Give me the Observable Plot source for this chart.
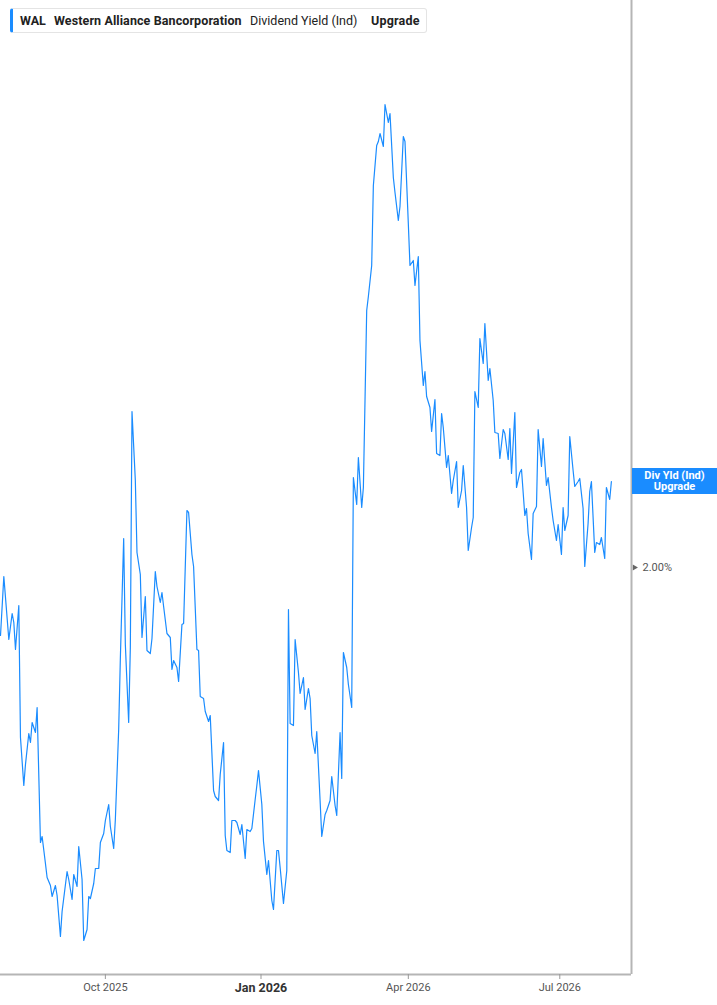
<!DOCTYPE html>
<html>
<head>
<meta charset="utf-8">
<script src="https://cdn.jsdelivr.net/npm/d3@7"></script>
<script src="https://cdn.jsdelivr.net/npm/@observablehq/plot@0.6"></script>
<style>
  html, body { margin: 0; padding: 0; background: #fff; }
  #wrap { position: relative; width: 717px; height: 1005px; overflow: hidden; }
  #legend {
    position: absolute; left: 10px; top: 8px; height: 25px; width: 417px;
    box-sizing: border-box; border: 1px solid #e4e4e4; border-left: 3px solid #1a8cff;
    border-radius: 3px; background: #fff;
    font-family: Roboto, "Noto Sans", sans-serif; font-size: 12.5px; color: #222;
    white-space: nowrap;
  }
  #legend span { position: absolute; top: 4px; }
</style>
</head>
<body>
<div id="wrap">
  <div id="chart"></div>
  <div id="legend">
    <span style="left:7px;font-weight:700">WAL</span>
    <span style="left:41px;font-weight:700;letter-spacing:0.1px">Western Alliance Bancorporation</span>
    <span style="left:237px;font-weight:400">Dividend Yield (Ind)</span>
    <span style="left:358px;font-weight:700;letter-spacing:0.2px">Upgrade</span>
  </div>
</div>
<script>
const dates = [
"2025-07-30","2025-08-01","2025-08-04","2025-08-06","2025-08-07","2025-08-08","2025-08-10","2025-08-11","2025-08-13","2025-08-14",
"2025-08-16","2025-08-17","2025-08-18","2025-08-20","2025-08-21","2025-08-23","2025-08-24","2025-08-26","2025-08-27","2025-08-29",
"2025-08-30","2025-09-01","2025-09-02","2025-09-04","2025-09-05","2025-09-08","2025-09-09","2025-09-11","2025-09-12","2025-09-14",
"2025-09-15","2025-09-17","2025-09-18","2025-09-20","2025-09-21","2025-09-22","2025-09-24","2025-09-25","2025-09-27","2025-09-28",
"2025-09-30","2025-10-01","2025-10-03","2025-10-04","2025-10-06","2025-10-07","2025-10-09","2025-10-10","2025-10-12","2025-10-13",
"2025-10-15","2025-10-16","2025-10-17","2025-10-19","2025-10-20","2025-10-22","2025-10-23","2025-10-25","2025-10-26","2025-10-28",
"2025-10-29","2025-10-31","2025-11-01","2025-11-03","2025-11-04","2025-11-05","2025-11-07","2025-11-09","2025-11-10","2025-11-11",
"2025-11-13","2025-11-14","2025-11-16","2025-11-17","2025-11-19","2025-11-20","2025-11-22","2025-11-23","2025-11-25","2025-11-26",
"2025-11-27","2025-11-29","2025-11-30","2025-12-02","2025-12-03","2025-12-05","2025-12-06","2025-12-08","2025-12-09","2025-12-11",
"2025-12-12","2025-12-13","2025-12-15","2025-12-16","2025-12-18","2025-12-19","2025-12-21","2025-12-22","2025-12-24","2025-12-25",
"2025-12-27","2025-12-28","2025-12-30","2025-12-31","2026-01-01","2026-01-03","2026-01-04","2026-01-06","2026-01-07","2026-01-09",
"2026-01-10","2026-01-12","2026-01-13","2026-01-14","2026-01-16","2026-01-18","2026-01-19","2026-01-20","2026-01-22","2026-01-23",
"2026-01-25","2026-01-26","2026-01-28","2026-01-29","2026-01-31","2026-02-01","2026-02-02","2026-02-04","2026-02-05","2026-02-07",
"2026-02-08","2026-02-10","2026-02-11","2026-02-13","2026-02-14","2026-02-16","2026-02-17","2026-02-19","2026-02-20","2026-02-21",
"2026-02-23","2026-02-24","2026-02-26","2026-02-27","2026-03-01","2026-03-02","2026-03-04","2026-03-05","2026-03-07","2026-03-08",
"2026-03-10","2026-03-11","2026-03-13","2026-03-14","2026-03-15","2026-03-17","2026-03-18","2026-03-20","2026-03-21","2026-03-23",
"2026-03-24","2026-03-26","2026-03-27","2026-03-29","2026-03-30","2026-04-01","2026-04-02","2026-04-04","2026-04-05","2026-04-07",
"2026-04-08","2026-04-10","2026-04-11","2026-04-12","2026-04-14","2026-04-15","2026-04-17","2026-04-18","2026-04-20","2026-04-21",
"2026-04-22","2026-04-24","2026-04-25","2026-04-27","2026-04-28","2026-04-30","2026-05-01","2026-05-03","2026-05-04","2026-05-06",
"2026-05-07","2026-05-09","2026-05-10","2026-05-11","2026-05-13","2026-05-14","2026-05-16","2026-05-17","2026-05-19","2026-05-20",
"2026-05-22","2026-05-23","2026-05-25","2026-05-26","2026-05-28","2026-05-29","2026-05-31","2026-06-01","2026-06-02","2026-06-04",
"2026-06-05","2026-06-07","2026-06-08","2026-06-10","2026-06-11","2026-06-12","2026-06-14","2026-06-15","2026-06-17","2026-06-18",
"2026-06-20","2026-06-21","2026-06-23","2026-06-24","2026-06-26","2026-06-27","2026-06-29","2026-06-30","2026-07-02","2026-07-03",
"2026-07-04","2026-07-06","2026-07-07","2026-07-09","2026-07-10","2026-07-12","2026-07-13","2026-07-15","2026-07-16","2026-07-18",
"2026-07-19","2026-07-20","2026-07-22","2026-07-23","2026-07-25","2026-07-26","2026-07-28","2026-07-29","2026-07-31","2026-08-01"
];
const yields = [
1.932,1.991,1.928,1.954,1.945,1.918,1.962,1.830,1.782,1.803,
1.834,1.825,1.845,1.835,1.860,1.725,1.731,1.704,1.690,1.682,
1.671,1.682,1.672,1.631,1.656,1.696,1.688,1.668,1.693,1.681,
1.721,1.688,1.627,1.638,1.671,1.669,1.684,1.699,1.699,1.725,
1.734,1.747,1.763,1.741,1.719,1.748,1.838,1.909,2.029,1.923,
1.845,1.920,2.156,2.087,2.015,1.993,1.930,1.971,1.917,1.914,
1.929,1.996,1.981,1.965,1.975,1.961,1.934,1.930,1.898,1.907,
1.900,1.886,1.943,1.944,2.057,2.055,2.013,2.001,1.918,1.917,
1.871,1.869,1.856,1.846,1.852,1.777,1.771,1.767,1.793,1.825,
1.732,1.717,1.715,1.747,1.747,1.745,1.733,1.743,1.709,1.738,
1.736,1.739,1.768,1.782,1.797,1.763,1.726,1.693,1.707,1.667,
1.658,1.717,1.717,1.700,1.664,1.697,1.958,1.844,1.842,1.928,
1.895,1.874,1.890,1.858,1.879,1.869,1.832,1.814,1.836,1.767,
1.731,1.753,1.757,1.767,1.791,1.762,1.752,1.835,1.789,1.915,
1.900,1.883,1.860,2.090,2.063,2.110,2.060,2.080,2.257,2.271,
2.302,2.382,2.422,2.426,2.434,2.421,2.463,2.445,2.454,2.390,
2.375,2.347,2.361,2.431,2.426,2.344,2.302,2.307,2.282,2.311,
2.227,2.182,2.196,2.171,2.160,2.136,2.168,2.114,2.112,2.154,
2.140,2.100,2.112,2.074,2.087,2.106,2.060,2.077,2.102,2.060,
2.017,2.040,2.050,2.176,2.160,2.229,2.204,2.244,2.187,2.199,
2.167,2.135,2.134,2.109,2.138,2.134,2.108,2.139,2.094,2.155,
2.080,2.095,2.098,2.052,2.059,2.034,2.008,2.054,2.061,2.138,
2.101,2.129,2.082,2.090,2.060,2.047,2.027,2.043,2.013,2.060,
2.037,2.052,2.131,2.097,2.081,2.086,2.089,2.059,2.001,2.044,
2.076,2.086,2.015,2.025,2.023,2.030,2.009,2.080,2.068,2.086
];
const xTicks = ["2025-10-01","2026-01-01","2026-04-01","2026-07-01"];
const xTickLabels = ["Oct 2025","Jan 2026","Apr 2026","Jul 2026"];
const boldTick = "2026-01-01";
const yTicks = [2.0];
const seriesLabel = ["Div Yld (Ind)", "Upgrade"];

const data = dates.map((d, i) => ({date: new Date(d), value: yields[i]}));
const last = data[data.length - 1];
const xDomain = [new Date("2025-07-30T00:00:00Z"), new Date("2026-08-13T02:00:00Z")];
const yDomain = [1.593, 2.567];
const tickDates = xTicks.map(d => new Date(d));
const labelOf = d => xTickLabels[xTicks.indexOf(d.toISOString().slice(0,10))];
const boldDates = tickDates.filter(d => d.toISOString().slice(0,10) === boldTick);
const normalDates = tickDates.filter(d => d.toISOString().slice(0,10) !== boldTick);

const BLUE = "#1a8cff";
const FONT = "Roboto, 'Noto Sans', sans-serif";

function endLabel(index, scales, values, dims) {
  const g = d3.create("svg:g");
  const x0 = dims.width - dims.marginRight + 1;
  const yc = scales.y(last.value);
  g.append("rect").attr("x", x0).attr("y", yc - 13).attr("width", dims.width - x0).attr("height", 26)
    .attr("fill", BLUE);
  const cx = x0 + (dims.width - x0) / 2;
  g.append("text").attr("x", cx).attr("y", yc - 2.5).attr("text-anchor", "middle")
    .attr("fill", "#fff").attr("font-weight", 700).attr("font-size", 11).attr("font-family", FONT)
    .text(seriesLabel[0]);
  g.append("text").attr("x", cx).attr("y", yc + 9).attr("text-anchor", "middle")
    .attr("fill", "#fff").attr("font-weight", 700).attr("font-size", 11).attr("font-family", FONT)
    .text(seriesLabel[1]);
  return g.node();
}

const chart = Plot.plot({
  width: 717,
  height: 1005,
  marginTop: 0,
  marginLeft: 0,
  marginRight: 86,
  marginBottom: 31,
  style: {fontFamily: FONT, background: "#fff", overflow: "visible"},
  x: {type: "utc", domain: xDomain},
  y: {domain: yDomain},
  marks: [
    Plot.ruleY([yDomain[0]], {stroke: "#b5b5b5", strokeWidth: 2}),
    Plot.ruleX([xDomain[1]], {stroke: "#b5b5b5", strokeWidth: 2}),
    Plot.axisX(normalDates, {tickSize: 5, tickPadding: 4, stroke: "#999", fill: "#555", fontSize: 11,
      tickFormat: labelOf, label: null}),
    Plot.axisX(boldDates, {tickSize: 5, tickPadding: 3.5, stroke: "#999", fill: "#333", fontSize: 12.5,
      fontWeight: 700, tickFormat: labelOf, label: null, dx: 2.5}),
    Plot.axisY(yTicks, {anchor: "right", tickSize: 0, tickPadding: 11, fill: "#555", fontSize: 11,
      tickFormat: d => d.toFixed(2) + "%", label: null}),
    Plot.dot(yTicks, {x: () => xDomain[1], y: d => d, symbol: "triangle", rotate: 90, r: 2.2,
      fill: "#666", stroke: null, dx: 3}),
    Plot.line(data, {x: "date", y: "value", stroke: BLUE, strokeWidth: 1.2}),
    endLabel
  ]
});
document.getElementById("chart").appendChild(chart);
</script>
</body>
</html>
